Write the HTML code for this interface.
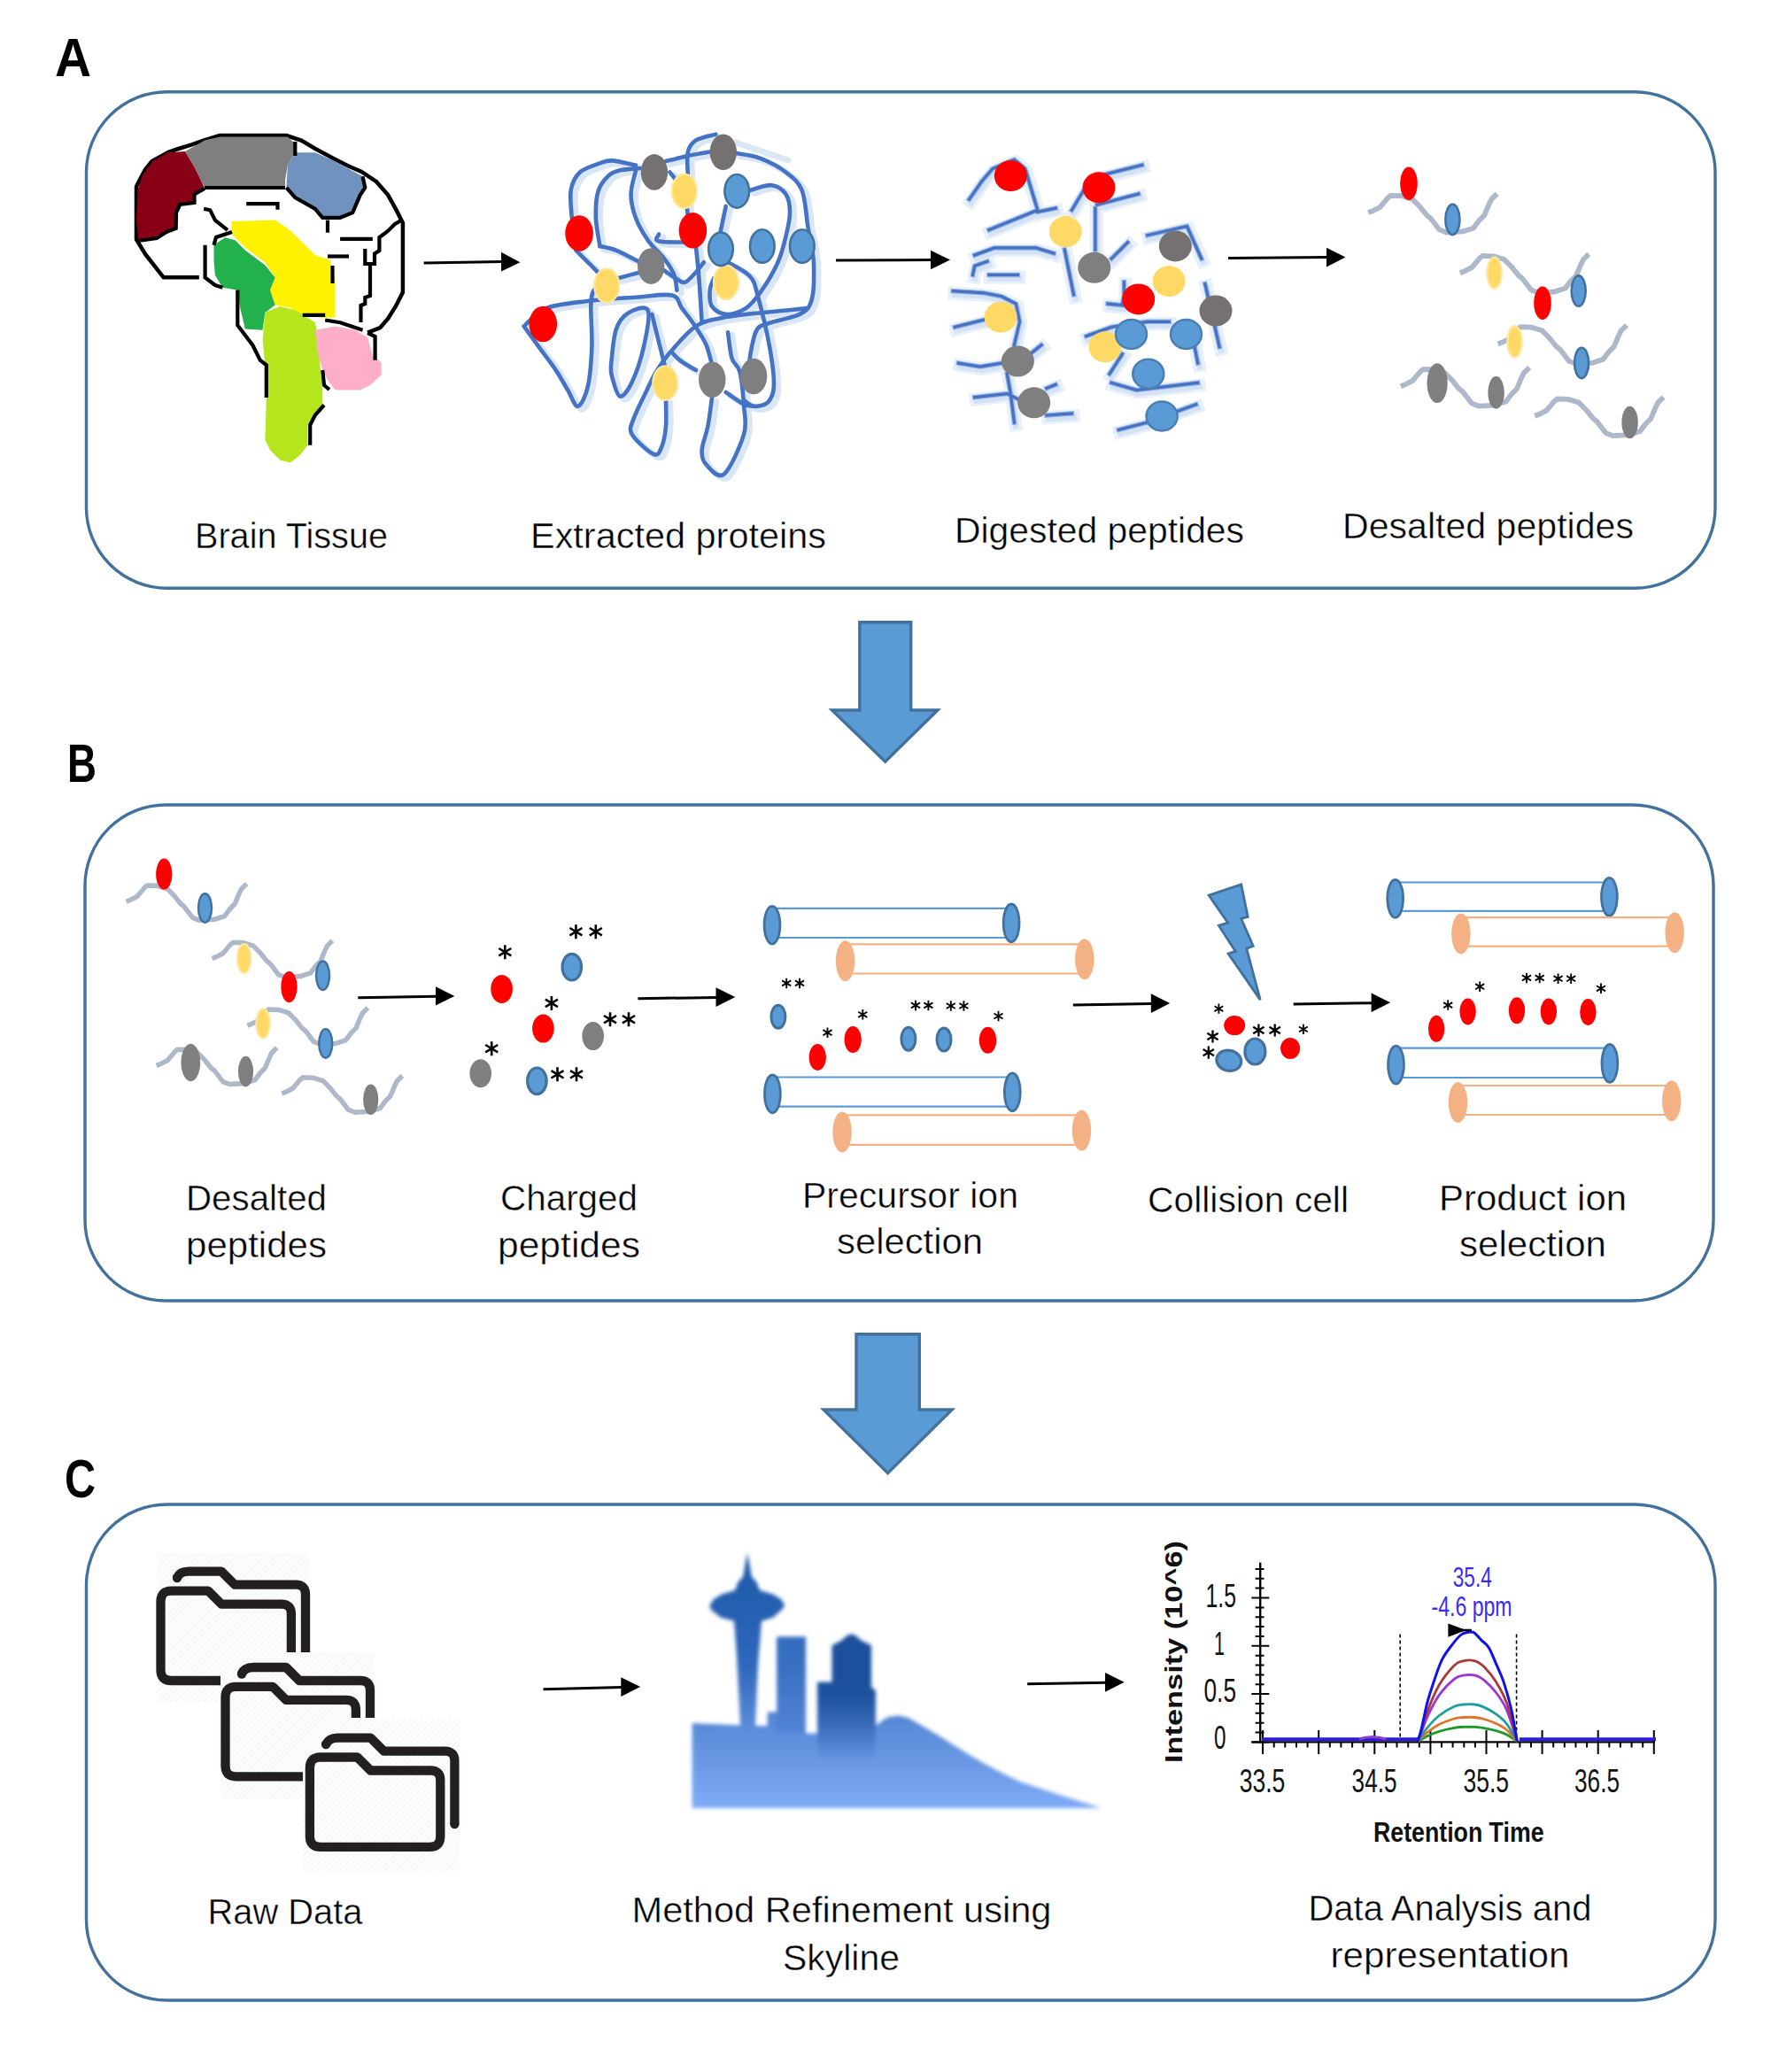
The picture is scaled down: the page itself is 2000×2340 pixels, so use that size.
<!DOCTYPE html>
<html><head><meta charset="utf-8"><title>Workflow</title>
<style>
html,body{margin:0;padding:0;background:#fff;overflow:hidden;width:2000px;height:2340px;}
svg{display:block;}
text{font-family:"Liberation Sans",sans-serif;}
</style></head>
<body>
<svg width="2000" height="2340" viewBox="0 0 2000 2340">
<defs>
  <marker id="ah" viewBox="0 0 10 10" refX="10" refY="5" markerUnits="userSpaceOnUse" markerWidth="22" markerHeight="22" orient="auto">
    <path d="M0,0 L10,5 L0,10 z" fill="#000"/>
  </marker>
  <filter id="soft" x="-5%" y="-5%" width="110%" height="110%"><feGaussianBlur stdDeviation="0.7"/></filter>
  <pattern id="hatch" patternUnits="userSpaceOnUse" width="4.5" height="4.5" patternTransform="rotate(-45)"><rect width="4.5" height="4.5" fill="#FDFDFD"/><rect width="4.5" height="1.3" fill="#F5F5F5"/></pattern>
  <g id="ast"><path d="M0,-8 V8 M-7,-4.2 L7,4.2 M-7,4.2 L7,-4.2" stroke="#000" stroke-width="2.6" fill="none"/></g>
</defs>
<rect width="2000" height="2340" fill="#fff"/>

<!-- ===== Section A: brain ===== -->
<g id="brain" stroke-linejoin="miter">
  <path d="M224.8,313.3 L184.7,313.3 L164.2,287.2 L154,270.4 L154,210.8 L158.6,201.5 L164.2,191.2 L171.7,181.9 L190.3,171.7 L201.5,168 L216.4,163.3 L231.3,158.1 L248.1,153 L323.5,153 L340.3,158.6 L356.1,168 L376.6,179.1 L393.4,187.5 L408.3,194 L425.1,205.2 L438.1,220.1 L447.4,236.9 L454.9,251.8 L454.9,330.1 L447.4,345 L438.1,359.9 L429.3,370 L415.1,375.6 L423.6,398.2 L423.6,406.7 L380,420 L367.2,457.5 L355.9,468.8 L350.2,480.1 L350.2,502.7 L330,522 L300.8,449 L300.8,412.3 L293.7,406.7 L285.3,389.7 L276.8,378.4 L268.3,367.2 L268.3,327.6 L242.9,322 L231.6,313.5 L231.6,276.8 Z" fill="#fff" stroke="none"/>
  <path d="M224.8,313.3 L184.7,313.3 L164.2,287.2 L154,270.4 L154,210.8 L158.6,201.5 L164.2,191.2 L171.7,181.9 L190.3,171.7 L201.5,168 L216.4,163.3 L231.3,158.1 L248.1,153 L323.5,153 L340.3,158.6 L356.1,168 L376.6,179.1 L393.4,187.5 L408.3,194 L425.1,205.2 L438.1,220.1 L447.4,236.9 L454.9,251.8 L454.9,330.1 L447.4,345 L438.1,359.9 L429.3,370 L415.1,375.6" fill="none" stroke="#000" stroke-width="4.5"/>
  <!-- colored regions -->
  <path d="M155.4,214.7 L161.1,197.8 L172.3,182.2 L189.3,172.3 L209.1,170.9 L220,189.3 L227,203.4 L231,213 L219.5,219.5 L219.5,229 L203.2,231 L199,240 L198.7,257.7 L187.9,262 L177,269 L156.3,271.8 L154,248.6 Z" fill="#880015"/>
  <path d="M209.1,170.9 L231.6,158.2 L248.6,154.6 L324.8,154.6 L333.3,162.5 L333.3,172.3 L324.8,186.5 L322,203.4 L322,210.5 L231,212 L227,203.4 L220,189.3 Z" fill="#7F7F7F"/>
  <path d="M333.3,172.3 L355.9,172.3 L378.4,182.2 L409.5,199.2 L412.3,211.9 L406.7,220.3 L398.2,240.1 L384.1,245.8 L364.3,245.8 L355.9,235.9 L333.3,223.2 L323.4,211.9 L324.8,186.5 Z" fill="#7092BE"/>
  <path d="M261.3,250 L310.7,248.6 L327.6,259.9 L344.6,276.8 L355.9,288.1 L372.8,293.7 L378.4,313.5 L378.4,358.7 L364.3,358.7 L341.7,355.9 L327.6,347.4 L310.7,344.6 L305,327.6 L310.7,313.5 L299.4,296.6 L276.8,279.6 L262.7,265.5 Z" fill="#FFF200"/>
  <path d="M241.5,276.8 L254.2,268.3 L265.5,271.2 L276.8,282.5 L299.4,299.4 L310.7,313.5 L305,327.6 L310.7,344.6 L299.4,353 L296.6,372.8 L276.8,371.4 L271.2,347.4 L268.3,327.6 L251.4,324.8 L242.9,310.7 L241.5,293.7 Z" fill="#22B14C"/>
  <path d="M299.4,353 L316.3,346 L333.3,350.2 L355.9,364.3 L358.7,378.4 L361.5,412.3 L364.3,440.6 L364.3,460.3 L355.9,468.8 L347.4,480.1 L347.4,502.7 L338.9,514 L327.6,522.4 L316.3,519.6 L305,508.3 L299.4,497 L300.8,451.9 L299.4,412.3 L296.6,384.1 Z" fill="#B5E61D"/>
  <path d="M355.9,372.8 L378.4,368.6 L401,372.8 L415.1,381.3 L420.8,401 L430.7,409.5 L430.7,423.6 L418,434.9 L406.7,440.6 L378.4,440.6 L370,429.3 L364.3,418 L358.7,398.2 Z" fill="#FFAEC9"/>
  <!-- inner black lines -->
  <g fill="none" stroke="#000" stroke-width="4.2">
    <path d="M231,212 L322,212"/>
    <path d="M231,213 L219.5,219.5 L219.5,229 L203.2,231 L199,240 L198.7,257.7 L187.9,262 L177,269 L156,272"/>
    <path d="M323.4,211.9 L333.3,223.2 L355.9,235.9 L364.3,245.8 L384.1,245.8 L398.2,240.1 L406.7,220.3 L412.3,211.9 L409.5,199.2"/>
    <path d="M333.3,160 L333.3,176"/>
    <path d="M278.2,230.2 L313.5,230.2 L313.5,236.7"/>
    <path d="M230.2,235.9 L237.3,237.3 L242.9,248.6 L257,259.9"/>
    <path d="M384.1,269.8 L420.8,269.8"/>
    <path d="M370,289.5 L394,289.5"/>
    <path d="M370,248.6 L370,262.7"/>
    <path d="M412.3,281 L412.3,298 L423,298 L423,286.5 L428.4,283 L428.4,268 L434,264 L440,259 L446,253 L453,249"/><path d="M418,298 L418,334 L412.3,336 L412.3,343 L407.5,345 L407.5,364"/><path d="M375.5,300 L375.5,320"/>
    
    <path d="M341.7,355.9 L367.2,355.9 M367.2,361.5 L384.1,364.3 L409.5,372.8"/>
    <path d="M231.6,276.8 L231.6,313.5 L242.9,322 L251.4,324.8"/>
    <path d="M241.5,276.8 L244,268 L262,262"/>
    <path d="M268.3,327.6 L268.3,367.2 L276.8,378.4 L285.3,389.7 L293.7,406.7 L300.8,412.3 L300.8,449"/>
    <path d="M366,457.5 L355.9,468.8 L350.2,480.1 L350.2,502.7"/>
    <path d="M415.1,376 L423.6,380 L423.6,398.2 L423.6,406.7"/>
    <path d="M364.3,418 L366,435 L372,440"/>
  </g>
</g>

<!-- ===== Section A: extracted proteins ===== -->
<g fill="none" stroke-linejoin="round" stroke-linecap="round">
  <path d="M831,161 L890,181" stroke="#DAE7F6" stroke-width="7"/><g stroke="#D8E6F6" stroke-width="7" transform="translate(4.8,3.4)">
    <use href="#tangle"/>
  </g>
  <g stroke="#4472C4" stroke-width="4.6" id="tangleg">
    <g id="tangle"><path d="M591.6,368.4 C594.6,372.6 603.7,385.0 609.7,393.3 C615.7,401.6 622.5,410.2 627.8,418.1 C633.0,426.0 637.2,433.9 641.3,440.7 C645.5,447.5 648.8,459.5 652.6,458.8 C656.4,458.0 661.3,447.5 663.9,436.2 C666.5,424.9 667.8,406.1 668.4,391.0 C669.0,376.0 666.9,356.4 667.3,345.9 C667.7,335.3 668.2,331.9 670.7,327.8 C673.1,323.7 680.1,322.1 682.0,321.0"/><path d="M593.9,366.2 C597.6,363.2 605.2,352.4 616.5,348.1 C627.8,343.8 644.7,342.3 661.6,340.2 C678.6,338.1 701.9,336.8 718.1,335.7 C734.3,334.6 750.1,331.4 758.8,333.4 C767.4,335.5 765.9,342.7 770.1,348.1 C774.2,353.6 779.1,359.4 783.6,366.2 C788.1,373.0 793.8,381.2 797.2,388.8 C800.5,396.3 802.8,407.6 803.9,411.4"/><path d="M645.8,246.5 C645.6,241.2 643.2,223.5 644.7,214.9 C646.2,206.2 649.4,199.6 654.9,194.5 C660.3,189.5 671.4,186.6 677.4,184.4 C683.5,182.2 684.2,181.1 691.0,181.4 C697.8,181.8 713.6,185.8 718.1,186.6"/><path d="M677.4,278.1 C676.7,272.8 673.3,256.6 672.9,246.5 C672.6,236.3 672.9,225.0 675.2,217.1 C677.4,209.2 682.3,203.2 686.5,199.1 C690.6,194.9 694.0,193.8 700.0,192.3 C706.1,190.8 718.9,190.4 722.6,190.0"/><path d="M677.4,278.1 C680.5,278.9 688.0,279.6 695.5,282.6 C703.0,285.6 718.1,293.9 722.6,296.2"/><path d="M718.1,192.3 C717.2,196.8 712.5,210.3 712.5,219.4 C712.5,228.4 714.9,237.8 718.1,246.5 C721.3,255.1 726.4,263.8 731.7,271.3 C736.9,278.9 744.8,285.3 749.7,291.7 C754.6,298.1 758.6,303.7 761.0,309.7 C763.5,315.7 763.8,324.8 764.4,327.8"/><path d="M650.3,282.6 C653.4,285.6 663.5,295.8 668.4,300.7 C673.3,305.6 677.8,310.1 679.7,312.0"/><path d="M697.8,314.2 C701.9,313.1 718.5,308.6 722.6,307.5"/><path d="M749.7,305.2 C752.0,306.7 759.3,312.0 763.3,314.2 C767.2,316.5 769.7,319.9 773.4,318.8 C777.2,317.6 782.3,311.2 785.9,307.5 C789.4,303.7 793.4,298.1 794.9,296.2"/><path d="M744.1,264.6 C744.1,265.9 737.5,271.0 744.1,272.5 C750.7,274.0 777.0,273.4 783.6,273.6"/><path d="M776.8,244.2 C776.1,239.7 775.7,225.4 772.3,217.1 C768.9,208.8 759.1,198.3 756.5,194.5"/><path d="M785.9,278.1 C786.4,283.7 788.1,297.7 789.2,312.0 C790.4,326.3 792.1,355.3 792.6,363.9"/><path d="M819.7,232.9 C818.6,238.2 814.1,259.3 813.0,264.6"/><path d="M846.8,214.9 C851.0,213.9 864.9,208.5 871.7,209.2 C878.5,210.0 884.1,214.3 887.5,219.4 C890.9,224.5 892.0,231.8 892.0,239.7 C892.0,247.6 889.8,257.4 887.5,266.8 C885.2,276.2 883.0,286.0 878.5,296.2 C873.9,306.3 866.4,319.1 860.4,327.8 C854.4,336.5 849.1,343.6 842.3,348.1 C835.6,352.6 826.1,355.3 819.7,354.9 C813.3,354.5 806.9,350.4 803.9,345.9 C800.9,341.3 801.3,333.1 801.7,327.8 C802.0,322.5 805.4,316.5 806.2,314.2"/><path d="M831.0,173.1 C835.6,174.0 848.7,175.1 858.1,178.7 C867.5,182.3 879.6,188.5 887.5,194.5 C895.4,200.6 901.4,204.7 905.6,214.9 C909.7,225.0 910.1,241.2 912.3,255.5 C914.6,269.8 919.1,285.3 919.1,300.7 C919.1,316.1 920.2,337.6 912.3,348.1 C904.4,358.7 881.1,360.2 871.7,363.9 C862.3,367.7 859.6,366.2 855.9,370.7 C852.1,375.2 851.0,382.8 849.1,391.0 C847.2,399.3 845.3,415.5 844.6,420.4"/><path d="M822.0,296.2 C826.1,298.8 841.2,305.6 846.8,312.0 C852.5,318.4 852.1,321.0 855.9,334.6 C859.6,348.1 866.4,376.4 869.4,393.3 C872.4,410.2 874.3,426.0 873.9,436.2 C873.6,446.4 870.9,450.5 867.2,454.3 C863.4,458.0 855.9,459.2 851.4,458.8 C846.8,458.4 841.9,453.1 840.1,452.0"/><path d="M689.9,413.6 C690.8,406.8 692.3,382.9 695.5,373.0 C698.7,363.0 703.0,357.5 709.1,353.8 C715.1,350.0 728.6,344.2 731.7,350.4 C734.7,356.6 730.1,377.5 727.1,391.0 C724.1,404.6 718.1,422.3 713.6,431.7 C709.1,441.1 703.8,448.6 700.0,447.5 C696.3,446.4 692.7,430.6 691.0,424.9 C689.3,419.3 690.1,415.5 689.9,413.6"/><path d="M736.2,354.9 C737.7,360.9 742.8,381.2 745.2,391.0 C747.7,400.8 749.9,409.9 750.9,413.6"/><path d="M752.0,452.0 C752.0,456.9 752.7,472.7 752.0,481.4 C751.2,490.0 749.7,498.7 747.5,504.0 C745.2,509.2 744.1,515.3 738.4,513.0 C732.8,510.7 717.3,497.2 713.6,490.4 C709.8,483.6 713.2,480.2 715.8,472.3 C718.5,464.4 725.3,451.6 729.4,443.0 C733.5,434.3 735.8,428.3 740.7,420.4 C745.6,412.5 751.2,404.2 758.8,395.6 C766.3,386.9 776.8,374.5 785.9,368.4 C794.9,362.4 801.7,361.9 813.0,359.4 C824.3,357.0 837.1,355.6 853.6,353.8 C870.2,351.9 902.6,349.1 912.3,348.1"/><path d="M785.9,418.1 C782.8,416.3 772.3,410.2 767.8,406.8 C763.3,403.5 760.3,399.3 758.8,397.8"/><path d="M819.7,443.0 C823.1,445.2 834.8,453.9 840.1,456.5 C845.3,459.2 849.5,458.4 851.4,458.8"/><path d="M803.9,449.8 C803.2,455.0 801.3,471.6 799.4,481.4 C797.5,491.2 793.0,501.3 792.6,508.5 C792.3,515.6 793.0,519.8 797.2,524.3 C801.3,528.8 810.3,541.2 817.5,535.6 C824.6,529.9 836.3,503.2 840.1,490.4 C843.8,477.6 840.8,470.5 840.1,458.8 C839.3,447.1 837.8,429.4 835.6,420.4 C833.3,411.4 828.8,412.1 826.5,404.6 C824.3,397.1 822.8,380.1 822.0,375.2"/><path d="M752.0,182.1 C756.1,181.1 768.5,177.8 776.8,176.0 C785.1,174.2 797.5,172.2 801.7,171.5"/><path d="M776.8,196.8 C776.8,192.7 775.3,178.3 776.8,171.9 C778.3,165.5 780.6,161.8 785.9,158.4 C791.1,155.0 804.7,152.7 808.4,151.6"/><path d="M815.2,278.1 C814.8,280.4 813.3,289.4 813.0,291.7"/></g>
  </g>
</g>
<g>
  <g fill="#7F7F7F">
    <ellipse cx="816.8" cy="171.8" rx="15.2" ry="20.3" fill="#767171"/>
    <ellipse cx="738.9" cy="194.4" rx="15.2" ry="20.3" fill="#767171"/>
    <ellipse cx="735.2" cy="300.6" rx="15.2" ry="20.3"/>
    <ellipse cx="804.3" cy="428.7" rx="15.2" ry="20.3"/>
    <ellipse cx="851.1" cy="425" rx="15.2" ry="20.3"/>
  </g>
  <g fill="#FFD966" stroke="#FFE699" stroke-width="2.2">
    <ellipse cx="772.8" cy="215.8" rx="14" ry="19.2"/>
    <ellipse cx="685.2" cy="322.5" rx="14" ry="19.2"/>
    <ellipse cx="820" cy="318.8" rx="14" ry="19.2"/>
    <ellipse cx="751.3" cy="432.6" rx="14" ry="19.2"/>
  </g>
  <g fill="#5B9BD5" stroke="#41719C" stroke-width="2.6">
    <ellipse cx="832.2" cy="215.8" rx="13.8" ry="18.8"/>
    <ellipse cx="814" cy="281.3" rx="13.8" ry="18.8"/>
    <ellipse cx="860.8" cy="278" rx="13.8" ry="18.8"/>
    <ellipse cx="905.8" cy="278" rx="13.8" ry="18.8"/>
  </g>
  <g fill="#FF0000">
    <ellipse cx="654.1" cy="263.5" rx="15.8" ry="20.2"/>
    <ellipse cx="782.4" cy="260.3" rx="15.8" ry="20.2"/>
    <ellipse cx="613.3" cy="366" rx="15.8" ry="20.2"/>
  </g>
</g>

<!-- ===== Section A: digested peptides ===== -->
<g fill="none" stroke-linecap="square" stroke-linejoin="miter" id="digest" filter="url(#soft)">
  <g stroke="#E8F0FA" stroke-width="15" transform="translate(1.5,2.5)"><use href="#dig"/></g>
  <g stroke="#D3E2F4" stroke-width="6.5" transform="translate(2,4)"><use href="#dig"/></g>
  <g stroke="#95B2E2" stroke-width="5.5"><use href="#dig"/></g>
  <g stroke="#4472C4" stroke-width="3.2"><g id="dig">
    <polyline points="1094.6,225.1 1108.8,204.7 1121.0,190.5 1145.4,180.3 1157.6,190.5 1171.8,237.3 1116.9,259.6"/>
    <polyline points="1171.8,239.3 1192.1,235.2"/>
    <polyline points="1100.7,288.1 1123.0,279.9 1169.8,279.9 1190.1,286.0"/>
    <polyline points="1098.6,310.4 1100.7,300.3 1114.9,295.2"/>
    <polyline points="1116.9,310.4 1149.4,310.4"/>
    <polyline points="1076.3,328.7 1110.8,330.8 1131.2,334.8 1147.4,343.0 1151.5,363.3 1145.4,389.7"/>
    <polyline points="1078.3,369.4 1110.8,361.3"/>
    <polyline points="1082.4,410.1 1106.8,414.1 1131.2,410.1"/>
    <polyline points="1165.7,397.9 1175.9,389.7"/>
    <polyline points="1100.7,448.7 1137.3,444.6 1149.4,450.7"/>
    <polyline points="1182.0,438.5 1192.1,434.4"/>
    <polyline points="1182.0,469.0 1210.4,467.0"/>
    <polyline points="1137.3,422.2 1141.3,444.6 1145.4,477.1"/>
    <polyline points="1210.4,237.3 1222.6,216.9 1232.8,200.7 1289.7,186.4"/>
    <polyline points="1238.9,231.2 1285.7,219.0"/>
    <polyline points="1236.9,235.2 1236.9,282.0"/>
    <polyline points="1202.3,282.0 1212.5,332.8"/>
    <polyline points="1255.2,292.1 1273.5,273.8"/>
    <polyline points="1269.4,318.6 1269.4,334.8 1267.4,343.0"/>
    <polyline points="1295.8,265.7 1340.5,255.5 1356.8,292.1"/>
    <polyline points="1360.9,320.6 1377.1,391.8"/>
    <polyline points="1226.7,379.6 1255.2,369.4 1295.8,363.3 1320.2,363.3"/>
    <polyline points="1253.1,422.2 1267.4,399.9"/>
    <polyline points="1255.2,432.4 1283.6,440.5 1352.7,432.4"/>
    <polyline points="1263.3,485.3 1295.8,477.1"/>
    <polyline points="1328.3,464.9 1350.7,456.8"/>
    <polyline points="1348.7,389.7 1352.7,410.1"/>
    <polyline points="1251.1,343.0 1269.4,345.0"/>
  </g></g>
</g>
<g>
  <g fill="#FF0000">
    <ellipse cx="1141.3" cy="198.6" rx="18.5" ry="17.5"/>
    <ellipse cx="1241" cy="211.8" rx="18.5" ry="17.5"/>
    <ellipse cx="1285.7" cy="337.9" rx="18.5" ry="17.5"/>
  </g>
  <g fill="#FFD966">
    <ellipse cx="1203.3" cy="261.6" rx="18.5" ry="17.5"/>
    <ellipse cx="1320.2" cy="317.6" rx="18.5" ry="17.5"/>
    <ellipse cx="1130.1" cy="358.2" rx="18.5" ry="17.5"/>
    <ellipse cx="1248" cy="391.8" rx="18.5" ry="17.5"/>
  </g>
  <g fill="#767171">
    <ellipse cx="1327.3" cy="277.9" rx="18.5" ry="17.5"/>
    <ellipse cx="1235.8" cy="302.3" rx="18.5" ry="17.5" fill="#7F7F7F"/>
    <ellipse cx="1373" cy="351" rx="18.5" ry="17.5"/>
    <ellipse cx="1149.4" cy="408" rx="18.5" ry="17.5" fill="#7F7F7F"/>
    <ellipse cx="1167.7" cy="454.8" rx="18.5" ry="17.5" fill="#7F7F7F"/>
  </g>
  <g fill="#5B9BD5" stroke="#4A7EB5" stroke-width="2.5">
    <ellipse cx="1277.5" cy="377.5" rx="17.5" ry="16.5"/>
    <ellipse cx="1339.5" cy="377.5" rx="17.5" ry="16.5"/>
    <ellipse cx="1296.8" cy="422.2" rx="17.5" ry="16.5"/>
    <ellipse cx="1312.1" cy="470" rx="17.5" ry="16.5"/>
  </g>
</g>

<!-- ===== desalted peptides group (A) ===== -->
<g id="pepA" transform="translate(1545.2,240.1)">
  <g id="pepgroup">
    <g fill="none" stroke="#ADB9CA" stroke-width="5.8" stroke-linejoin="round">
      <polyline id="chain" points="0,0 5.1,-2 13.2,-6.1 22.4,-16.9 25.4,-19.3 37.6,-18.9 49.8,-15.2 57.9,-7.1 66.1,3 70.1,6.1 80.3,19.3 88.4,22.4 106.7,21.3 118.9,17.3 125,9.1 131.1,3 136.2,-9.1 139.2,-15.2 145.4,-21.3"/>
      <use href="#chain" x="103.7" y="68.1"/>
      <use href="#chain" x="146.4" y="148.4"/>
      <use href="#chain" x="36.6" y="196.2"/>
      <use href="#chain" x="188" y="229.7"/>
    </g>
    <g fill="#FF0000">
      <ellipse cx="45.8" cy="-32.9" rx="9.8" ry="18.7"/>
      <ellipse cx="196.8" cy="102.1" rx="9.8" ry="18.7"/>
    </g>
    <g fill="#5B9BD5" stroke="#41719C" stroke-width="2.6">
      <ellipse cx="95.2" cy="7.8" rx="8" ry="17.2"/>
      <ellipse cx="237.5" cy="88.5" rx="8" ry="17.2"/>
      <ellipse cx="240.9" cy="169.8" rx="8" ry="17.2"/>
    </g>
    <g fill="#FFD966" stroke="#FFE699" stroke-width="2.4">
      <ellipse cx="142.4" cy="68.1" rx="8.2" ry="17.4"/>
      <ellipse cx="165.3" cy="145.8" rx="8.2" ry="17.4"/>
    </g>
    <g fill="#7F7F7F">
      <ellipse cx="77.9" cy="192.6" rx="11.6" ry="22.4"/>
      <ellipse cx="144.4" cy="203.3" rx="9.2" ry="18.3"/>
      <ellipse cx="295.4" cy="236.9" rx="9.2" ry="18.3"/>
    </g>
  </g>
</g>
<!-- ===== Section B ===== -->
<use href="#pepgroup" transform="translate(142.5,1018.2) scale(0.935,0.944)"/>
<g>
<g fill="#FF0000"><ellipse cx="566.6" cy="1116.9" rx="12.3" ry="16"/><ellipse cx="613.4" cy="1161.6" rx="12.3" ry="16"/></g>
<g fill="#7F7F7F"><ellipse cx="669.7" cy="1170.1" rx="12.3" ry="16"/><ellipse cx="542.7" cy="1212.2" rx="12.3" ry="16"/></g>
<g fill="#5B9BD5" stroke="#41719C" stroke-width="3.1"><ellipse cx="645.8" cy="1092.2" rx="10.8" ry="14.8"/><ellipse cx="606.4" cy="1220.8" rx="10.8" ry="14.8"/></g>
</g>
<g><use href="#ast" transform="translate(570.3,1075.2) scale(1.0)"/><use href="#ast" transform="translate(650.4,1052.2) scale(1.0)"/><use href="#ast" transform="translate(672.8,1052.2) scale(1.0)"/><use href="#ast" transform="translate(622.9,1132.9) scale(1.0)"/><use href="#ast" transform="translate(689,1151.2) scale(1.0)"/><use href="#ast" transform="translate(710,1151.2) scale(1.0)"/><use href="#ast" transform="translate(555.2,1184.2) scale(1.0)"/><use href="#ast" transform="translate(629.5,1213.3) scale(1.0)"/><use href="#ast" transform="translate(651,1213.3) scale(1.0)"/></g>
<path d="M872,1025.9 H1142.1 M872,1059 H1142.1" stroke="#5B9BD5" stroke-width="2.2" fill="none"/><ellipse cx="872" cy="1044.7" rx="8.9" ry="21.4" fill="#5B9BD5" stroke="#41719C" stroke-width="2.8"/><ellipse cx="1142.1" cy="1042.4" rx="8.9" ry="21.4" fill="#5B9BD5" stroke="#41719C" stroke-width="2.8"/>
<path d="M954.6,1066.4 H1224.8 M954.6,1099.5 H1224.8" stroke="#F4B183" stroke-width="2.2" fill="none"/><ellipse cx="954.6" cy="1085.2" rx="10.7" ry="23" fill="#F4B183"/><ellipse cx="1224.8" cy="1083.3" rx="10.7" ry="23" fill="#F4B183"/>
<path d="M872.4,1216.5 H1143.3 M872.4,1249.6 H1143.3" stroke="#5B9BD5" stroke-width="2.2" fill="none"/><ellipse cx="872.4" cy="1235.4" rx="8.9" ry="21.4" fill="#5B9BD5" stroke="#41719C" stroke-width="2.8"/><ellipse cx="1143.3" cy="1233.4" rx="8.9" ry="21.4" fill="#5B9BD5" stroke="#41719C" stroke-width="2.8"/>
<path d="M951.1,1259.3 H1221.5 M951.1,1292.9 H1221.5" stroke="#F4B183" stroke-width="2.2" fill="none"/><ellipse cx="951.1" cy="1278.5" rx="10.7" ry="23" fill="#F4B183"/><ellipse cx="1221.5" cy="1276.7" rx="10.7" ry="23" fill="#F4B183"/>
<path d="M1575.7,996.5 H1817.4 M1575.7,1028.9 H1817.4" stroke="#5B9BD5" stroke-width="2.2" fill="none"/><ellipse cx="1575.7" cy="1014.9" rx="8.9" ry="21.4" fill="#5B9BD5" stroke="#41719C" stroke-width="2.8"/><ellipse cx="1817.4" cy="1012.8" rx="8.9" ry="21.4" fill="#5B9BD5" stroke="#41719C" stroke-width="2.8"/>
<path d="M1649.9,1036.2 H1891.2 M1649.9,1068.6 H1891.2" stroke="#F4B183" stroke-width="2.2" fill="none"/><ellipse cx="1649.9" cy="1054.6" rx="10.7" ry="23" fill="#F4B183"/><ellipse cx="1891.2" cy="1053.2" rx="10.7" ry="23" fill="#F4B183"/>
<path d="M1576.5,1183.7 H1817.9 M1576.5,1217 H1817.9" stroke="#5B9BD5" stroke-width="2.2" fill="none"/><ellipse cx="1576.5" cy="1202.6" rx="8.9" ry="21.4" fill="#5B9BD5" stroke="#41719C" stroke-width="2.8"/><ellipse cx="1817.9" cy="1200.9" rx="8.9" ry="21.4" fill="#5B9BD5" stroke="#41719C" stroke-width="2.8"/>
<path d="M1646.5,1226 H1887.7 M1646.5,1259 H1887.7" stroke="#F4B183" stroke-width="2.2" fill="none"/><ellipse cx="1646.5" cy="1245" rx="10.7" ry="23" fill="#F4B183"/><ellipse cx="1887.7" cy="1243.3" rx="10.7" ry="23" fill="#F4B183"/>
<g fill="#FF0000"><ellipse cx="923.3" cy="1194" rx="9.7" ry="15"/><ellipse cx="963.2" cy="1174.1" rx="9.7" ry="15"/><ellipse cx="1115.5" cy="1174.8" rx="9.7" ry="15"/></g>
<g fill="#5B9BD5" stroke="#41719C" stroke-width="3"><ellipse cx="878.9" cy="1148.2" rx="8" ry="13"/><ellipse cx="1025.9" cy="1173.2" rx="8" ry="13"/><ellipse cx="1066" cy="1174.1" rx="8" ry="13"/></g>
<g><use href="#ast" transform="translate(888.2,1110.4) scale(0.72)"/><use href="#ast" transform="translate(903,1110.4) scale(0.72)"/><use href="#ast" transform="translate(934.5,1166.2) scale(0.72)"/><use href="#ast" transform="translate(974.3,1145.8) scale(0.72)"/><use href="#ast" transform="translate(1034,1135.4) scale(0.72)"/><use href="#ast" transform="translate(1048.4,1135.4) scale(0.72)"/><use href="#ast" transform="translate(1073.8,1136) scale(0.72)"/><use href="#ast" transform="translate(1088.4,1136) scale(0.72)"/><use href="#ast" transform="translate(1127.5,1147.5) scale(0.72)"/></g>
<path d="M1365.2,1011.1 L1401.7,998.9 L1409.2,1035.4 L1401.7,1037.5 L1415.2,1068.4 L1407.7,1071.2 L1423.2,1129.1 L1387.1,1077 L1395.3,1074.4 L1376.4,1045.4 L1386.7,1042.2 Z" fill="#5B9BD5" stroke="#41719C" stroke-width="2.8" stroke-linejoin="miter"/>
<g fill="#FF0000"><ellipse cx="1394.2" cy="1158.1" rx="12" ry="11"/><ellipse cx="1457.1" cy="1183.9" rx="11" ry="12"/></g>
<g fill="#5B9BD5" stroke="#41719C" stroke-width="3.2"><ellipse cx="1387.8" cy="1197.8" rx="14" ry="11.5" transform="rotate(12 1387.8 1197.8)"/><ellipse cx="1417.4" cy="1187.5" rx="11.5" ry="14.5"/></g>
<g><use href="#ast" transform="translate(1376.4,1139.2) scale(0.7)"/><use href="#ast" transform="translate(1369.5,1170.5) scale(0.88)"/><use href="#ast" transform="translate(1364.8,1188.6) scale(0.88)"/><use href="#ast" transform="translate(1421.4,1163.5) scale(0.88)"/><use href="#ast" transform="translate(1439.7,1163.5) scale(0.88)"/><use href="#ast" transform="translate(1471.9,1162.4) scale(0.7)"/></g>
<g fill="#FF0000"><ellipse cx="1622.1" cy="1161.8" rx="9.2" ry="15"/><ellipse cx="1657.6" cy="1142.4" rx="9.2" ry="15"/><ellipse cx="1713" cy="1141.3" rx="9.2" ry="15"/><ellipse cx="1748.9" cy="1142.4" rx="9.2" ry="15"/><ellipse cx="1793.4" cy="1143" rx="9.2" ry="15"/></g>
<g><use href="#ast" transform="translate(1635.2,1135.1) scale(0.72)"/><use href="#ast" transform="translate(1671.2,1114.2) scale(0.72)"/><use href="#ast" transform="translate(1724,1104.4) scale(0.72)"/><use href="#ast" transform="translate(1738.7,1104.4) scale(0.72)"/><use href="#ast" transform="translate(1759.6,1105.2) scale(0.72)"/><use href="#ast" transform="translate(1774.2,1105.2) scale(0.72)"/><use href="#ast" transform="translate(1808,1116.3) scale(0.72)"/></g>
<!-- ===== Section C ===== -->
<rect x="177" y="1754" width="172" height="168" fill="url(#hatch)"/>
<g stroke="#231F20" stroke-width="10.3" fill="none" stroke-linejoin="round"><path d="M249,1898 H193.5 Q181.5,1898 181.5,1886 V1808.6 Q181.5,1796.6 193.5,1796.6 H235.1 L250.1,1811.6 H317.9 Q328.9,1811.6 328.9,1822.6 V1865.9"/><path d="M199.7,1782.2 Q203,1774.7 213,1774.7 H250.1 L265.1,1789.7 H334 Q345,1789.7 345,1800.7 V1865.9"/></g><circle cx="200" cy="1782" r="5.2" fill="#231F20"/>
<rect x="249" y="1866.3" width="173.5" height="166" fill="url(#hatch)"/>
<g stroke="#231F20" stroke-width="10.3" fill="none" stroke-linejoin="round" transform="translate(73,108.3)"><path d="M272.6,1898 H193.5 Q181.5,1898 181.5,1886 V1808.6 Q181.5,1796.6 193.5,1796.6 H235.1 L250.1,1811.6 H317.9 Q328.9,1811.6 328.9,1822.6 V1831.6"/><path d="M199.7,1782.2 Q203,1774.7 213,1774.7 H250.1 L265.1,1789.7 H334 Q345,1789.7 345,1800.7 V1831.6"/></g><circle cx="273" cy="1890.5" r="5.2" fill="#231F20"/>
<rect x="342" y="1941.5" width="177" height="171.5" fill="url(#hatch)"/>
<g stroke="#231F20" stroke-width="10.3" fill="none" stroke-linejoin="round" transform="translate(168.4,187.9)"><path d="M181.5,1886 V1808.6 Q181.5,1796.6 193.5,1796.6 H235.1 L250.1,1811.6 H317.9 Q328.9,1811.6 328.9,1822.6 V1886 Q328.9,1898 316.9,1898 H193.5 Q181.5,1898 181.5,1886 Z"/><path d="M199.7,1782.2 Q203,1774.7 213,1774.7 H250.1 L265.1,1789.7 H334 Q345,1789.7 345,1800.7 V1872.1"/></g><circle cx="368.1" cy="1970" r="5.2" fill="#231F20"/><circle cx="513.4" cy="2060" r="5.2" fill="#231F20"/>

<defs>
<linearGradient id="skyg" x1="0" y1="1750" x2="0" y2="2042" gradientUnits="userSpaceOnUse">
 <stop offset="0" stop-color="#1C58A6"/><stop offset="0.45" stop-color="#2F68BC"/><stop offset="0.68" stop-color="#5A8AD8"/><stop offset="1" stop-color="#7FAAF6"/>
</linearGradient>
<linearGradient id="towg" x1="0" y1="1846" x2="0" y2="1990" gradientUnits="userSpaceOnUse">
 <stop offset="0" stop-color="#1A4F9C"/><stop offset="0.45" stop-color="#1E519E"/><stop offset="1" stop-color="#1E519E" stop-opacity="0"/>
</linearGradient>
<linearGradient id="b1g" x1="0" y1="1848" x2="0" y2="1960" gradientUnits="userSpaceOnUse">
 <stop offset="0" stop-color="#3A72C6"/><stop offset="1" stop-color="#4A7ED0"/>
</linearGradient>
<filter id="blur1" x="-5%" y="-5%" width="110%" height="110%"><feGaussianBlur stdDeviation="2.1"/></filter>
</defs>
<g filter="url(#blur1)"><path d="M781.6,2042 V1946 L836,1948.5 L832,1870 L829,1830.7 L814,1826.7 L803,1818 L801.3,1813 L806,1806 L815,1800.5 L830,1796 L834,1786 L839,1781 L844,1753.6 L849,1781 L854,1786 L858,1796 L873,1800.5 L882,1806 L886.3,1813 L883,1818 L873,1826.7 L860,1830.7 L856,1880 L853,1949 L866.6,1949 L866.6,1933.4 L877.2,1933.4 L877.2,1848.5 L910,1848.5 L910,1957.5 L923,1957.5 L923,1899.8 L939.7,1899.8 L939.7,1858.3 L950,1853 L957,1847 L961.4,1845.5 L966,1847 L973,1853 L984,1858.3 L984,1905 L989,1910 L989,1949 L995,1944 L1003,1939 L1014.8,1937.4 L1026,1940 L1060,1960 L1090,1979 L1113.6,1992.7 L1135,2004 L1153,2012.5 L1200,2028 L1244,2042 Z" fill="url(#skyg)"/>
<path d="M877.2,1848.5 H910 V1957.5 H877.2 Z" fill="url(#b1g)" opacity="0.55"/>
<path d="M923,1990 V1899.8 H939.7 V1858.3 L950,1853 L957,1847 L961.4,1845.5 L966,1847 L973,1853 L984,1858.3 V1905 L989,1910 V1990 Z" fill="url(#towg)"/>
</g>
<g stroke="#000" stroke-width="2.4" fill="none">
<line x1="1423.2" y1="1764.7" x2="1423.2" y2="1968.5"/>
<line x1="1413.4" y1="1967.4" x2="1869" y2="1967.4"/>
<path d="M1413.4,1967.4 H1433.3 M1417.6,1956.5 H1427.5 M1417.6,1945.7 H1427.5 M1417.6,1934.8 H1427.5 M1417.6,1924.0 H1427.5 M1413.4,1913.1 H1433.3 M1417.6,1902.2 H1427.5 M1417.6,1891.4 H1427.5 M1417.6,1880.5 H1427.5 M1417.6,1869.7 H1427.5 M1413.4,1858.8 H1433.3 M1417.6,1847.9 H1427.5 M1417.6,1837.1 H1427.5 M1417.6,1826.2 H1427.5 M1417.6,1815.4 H1427.5 M1413.4,1804.5 H1433.3 M1417.6,1793.6 H1427.5 M1417.6,1782.8 H1427.5 M1417.6,1771.9 H1427.5" stroke-width="2"/>
<path d="M1426.1,1954.1 V1981 M1438.7,1967.4 V1973.6 M1451.3,1967.4 V1973.6 M1464.0,1967.4 V1973.6 M1476.6,1967.4 V1973.6 M1489.2,1954.1 V1981 M1501.8,1967.4 V1973.6 M1514.4,1967.4 V1973.6 M1527.1,1967.4 V1973.6 M1539.7,1967.4 V1973.6 M1552.3,1954.1 V1981 M1564.9,1967.4 V1973.6 M1577.5,1967.4 V1973.6 M1590.2,1967.4 V1973.6 M1602.8,1967.4 V1973.6 M1615.4,1954.1 V1981 M1628.0,1967.4 V1973.6 M1640.6,1967.4 V1973.6 M1653.3,1967.4 V1973.6 M1665.9,1967.4 V1973.6 M1678.5,1954.1 V1981 M1691.1,1967.4 V1973.6 M1703.7,1967.4 V1973.6 M1716.4,1967.4 V1973.6 M1729.0,1967.4 V1973.6 M1741.6,1954.1 V1981 M1754.2,1967.4 V1973.6 M1766.8,1967.4 V1973.6 M1779.5,1967.4 V1973.6 M1792.1,1967.4 V1973.6 M1804.7,1954.1 V1981 M1817.3,1967.4 V1973.6 M1829.9,1967.4 V1973.6 M1842.6,1967.4 V1973.6 M1855.2,1967.4 V1973.6 M1867.8,1954.1 V1981" stroke-width="2"/>
</g>
<g stroke="#000" stroke-width="1.6" stroke-dasharray="4,3"><line x1="1581.2" y1="1845.4" x2="1581.2" y2="1966"/><line x1="1712.6" y1="1845.4" x2="1712.6" y2="1966"/></g>
<g stroke="#2B1FD6" stroke-width="4" fill="none"><path d="M1425,1964.2 H1601"/><path d="M1716,1964.2 H1870"/></g>
<path d="M1535,1964 Q1550,1959 1565,1964" stroke="#9040D0" stroke-width="3" fill="none"/>
<path d="M1601.5,1966.6 C1603.2,1965.6 1607.8,1962.6 1611.7,1960.7 C1615.7,1958.8 1620.1,1956.8 1625.2,1955.3 C1630.3,1953.7 1637.7,1952.1 1642.2,1951.3 C1646.7,1950.5 1648.3,1950.6 1652.3,1950.4 C1656.2,1950.2 1661.9,1950.2 1665.9,1950.4 C1669.9,1950.6 1672.1,1950.9 1676.1,1951.6 C1680.0,1952.3 1685.4,1953.4 1689.6,1954.6 C1693.8,1955.9 1697.5,1956.9 1701.5,1958.9 C1705.5,1960.9 1711.3,1965.3 1713.3,1966.6" fill="none" stroke="#1E9A2A" stroke-width="2.8"/>
<path d="M1601.5,1966.6 C1603.2,1964.9 1607.8,1959.9 1611.7,1956.7 C1615.7,1953.5 1620.1,1950.2 1625.2,1947.6 C1630.3,1945.0 1637.7,1942.4 1642.2,1941.0 C1646.7,1939.7 1648.3,1939.8 1652.3,1939.5 C1656.2,1939.2 1661.9,1939.2 1665.9,1939.5 C1669.9,1939.8 1672.1,1940.3 1676.1,1941.5 C1680.0,1942.7 1685.4,1944.6 1689.6,1946.6 C1693.8,1948.6 1697.5,1950.3 1701.5,1953.7 C1705.5,1957.0 1711.3,1964.4 1713.3,1966.6" fill="none" stroke="#E0742A" stroke-width="2.8"/>
<path d="M1601.5,1966.6 C1603.2,1964.1 1607.8,1956.2 1611.7,1951.4 C1615.7,1946.5 1620.1,1941.5 1625.2,1937.5 C1630.3,1933.5 1637.7,1929.4 1642.2,1927.3 C1646.7,1925.3 1648.3,1925.4 1652.3,1925.0 C1656.2,1924.6 1661.9,1924.5 1665.9,1925.0 C1669.9,1925.5 1672.1,1926.3 1676.1,1928.1 C1680.0,1929.9 1685.4,1932.8 1689.6,1935.9 C1693.8,1939.0 1697.5,1941.6 1701.5,1946.8 C1705.5,1951.9 1711.3,1963.3 1713.3,1966.6" fill="none" stroke="#1E9E9E" stroke-width="2.8"/>
<path d="M1601.5,1966.6 C1603.2,1962.1 1607.8,1948.1 1611.7,1939.4 C1615.7,1930.7 1620.1,1921.6 1625.2,1914.4 C1630.3,1907.2 1637.7,1900.0 1642.2,1896.3 C1646.7,1892.6 1648.3,1892.8 1652.3,1892.1 C1656.2,1891.4 1661.9,1891.2 1665.9,1892.1 C1669.9,1893.0 1672.1,1894.4 1676.1,1897.7 C1680.0,1900.9 1685.4,1906.1 1689.6,1911.6 C1693.8,1917.2 1697.5,1921.9 1701.5,1931.1 C1705.5,1940.2 1711.3,1960.7 1713.3,1966.6" fill="none" stroke="#9B35D8" stroke-width="2.8"/>
<path d="M1601.5,1966.6 C1603.2,1961.1 1607.8,1944.0 1611.7,1933.4 C1615.7,1922.8 1620.1,1911.8 1625.2,1903.0 C1630.3,1894.2 1637.7,1885.4 1642.2,1880.9 C1646.7,1876.4 1648.3,1876.7 1652.3,1875.8 C1656.2,1874.9 1661.9,1874.7 1665.9,1875.8 C1669.9,1876.9 1672.1,1878.6 1676.1,1882.6 C1680.0,1886.6 1685.4,1892.8 1689.6,1899.6 C1693.8,1906.4 1697.5,1912.1 1701.5,1923.3 C1705.5,1934.5 1711.3,1959.4 1713.3,1966.6" fill="none" stroke="#A83A3A" stroke-width="2.8"/>
<path d="M1600.8,1966.6 C1601.5,1964.5 1603.1,1961.0 1604.9,1953.8 C1606.7,1946.6 1609.2,1932.9 1611.7,1923.3 C1614.2,1913.7 1617.4,1904.4 1620.2,1896.2 C1623.0,1888.0 1625.5,1880.3 1628.6,1874.1 C1631.7,1867.9 1635.4,1863.4 1638.8,1858.9 C1642.2,1854.4 1646.2,1849.5 1649.0,1847.0 C1651.8,1844.5 1653.3,1844.2 1655.8,1843.7 C1658.3,1843.2 1661.4,1842.3 1664.2,1843.7 C1667.0,1845.1 1669.9,1849.3 1672.7,1852.1 C1675.5,1854.9 1678.4,1856.1 1681.2,1860.6 C1684.0,1865.1 1686.8,1872.7 1689.6,1879.2 C1692.4,1885.7 1695.3,1891.1 1698.1,1899.6 C1700.9,1908.1 1704.1,1918.8 1706.6,1930.0 C1709.1,1941.2 1712.2,1960.5 1713.3,1966.6" fill="none" stroke="#1010EE" stroke-width="3"/>
<path d="M1635.4,1833.5 L1655.7,1841 L1635.4,1848.7 Z" fill="#000"/><path d="M1650,1841 H1662" stroke="#000" stroke-width="2.5"/>
<!-- section labels -->
<text x="62" y="86" font-size="62" font-weight="bold" textLength="41" lengthAdjust="spacingAndGlyphs">A</text>
<text x="76" y="883" font-size="62" font-weight="bold" textLength="33" lengthAdjust="spacingAndGlyphs">B</text>
<text x="73" y="1691" font-size="62" font-weight="bold" textLength="35" lengthAdjust="spacingAndGlyphs">C</text>

<!-- boxes -->
<g fill="none" stroke="#41719C" stroke-width="3.4">
  <rect x="97.5" y="103.7" width="1839.5" height="560.5" rx="91" ry="91"/>
  <rect x="96" y="909" width="1839" height="560" rx="91" ry="91"/>
  <rect x="97.5" y="1699" width="1839.5" height="560" rx="91" ry="91"/>
</g>

<!-- big arrows -->
<g fill="#5B9BD5" stroke="#41719C" stroke-width="3.4" stroke-linejoin="miter">
  <path d="M970.8,702.8 H1028.7 V802 H1058.9 L999.7,860.2 L939.6,802 H970.8 Z"/>
  <path d="M967,1506.8 H1038.3 V1592 H1075.1 L1002.6,1663.6 L930.1,1592 H967 Z"/>
</g>

<!-- small arrows -->
<g stroke="#000" stroke-width="3" fill="none">
  <line x1="478.7" y1="297" x2="567" y2="295.5"/>
  <line x1="944" y1="294" x2="1053" y2="293.6"/>
  <line x1="1387" y1="291.5" x2="1500" y2="290.6"/>
  <line x1="404.3" y1="1126.8" x2="493" y2="1125.2"/>
  <line x1="720.4" y1="1127.8" x2="810" y2="1126.4"/>
  <line x1="1211.8" y1="1134.9" x2="1300" y2="1133.4"/>
  <line x1="1460.7" y1="1134.1" x2="1550" y2="1132.7"/>
  <line x1="613.6" y1="1907.7" x2="702" y2="1905.5"/>
  <line x1="1160.2" y1="1901.8" x2="1249" y2="1900.2"/>
</g>
<g fill="#000">
  <path d="M566,284.8 L587.4,296.2 L566,306.6 Z"/>
  <path d="M1051,282.8 L1073,293.4 L1051,304.2 Z"/>
  <path d="M1498,279.8 L1519.5,290.6 L1498,301.4 Z"/>
  <path d="M492,1114.2 L513.4,1124.9 L492,1135.6 Z"/>
  <path d="M808.5,1115.3 L830.3,1126 L808.5,1136.9 Z"/>
  <path d="M1299.8,1122.3 L1321.2,1133 L1299.8,1143.9 Z"/>
  <path d="M1548.6,1121.6 L1570.1,1132.3 L1548.6,1143.1 Z"/>
  <path d="M701.3,1894.2 L723.1,1905 L701.3,1915.9 Z"/>
  <path d="M1248,1888.9 L1269.7,1899.8 L1248,1910.7 Z"/>
</g>

<!-- captions -->
<g font-size="40" fill="#000" stroke="#fff" stroke-width="0.45">
  <text x="220.0" y="619.3" textLength="218" lengthAdjust="spacingAndGlyphs">Brain Tissue</text>
  <text x="599.0" y="619.3" textLength="334" lengthAdjust="spacingAndGlyphs">Extracted proteins</text>
  <text x="1078.0" y="612.8" textLength="327" lengthAdjust="spacingAndGlyphs">Digested peptides</text>
  <text x="1516.0" y="608.3" textLength="329" lengthAdjust="spacingAndGlyphs">Desalted peptides</text>

  <text x="210.0" y="1366.9" textLength="159" lengthAdjust="spacingAndGlyphs">Desalted</text>
  <text x="210.0" y="1419.9" textLength="159" lengthAdjust="spacingAndGlyphs">peptides</text>
  <text x="565.0" y="1366.9" textLength="155" lengthAdjust="spacingAndGlyphs">Charged</text>
  <text x="562.0" y="1419.9" textLength="161" lengthAdjust="spacingAndGlyphs">peptides</text>
  <text x="906.0" y="1364" textLength="244" lengthAdjust="spacingAndGlyphs">Precursor ion</text>
  <text x="945.0" y="1416" textLength="165" lengthAdjust="spacingAndGlyphs">selection</text>
  <text x="1296.0" y="1368.9" textLength="227" lengthAdjust="spacingAndGlyphs">Collision cell</text>
  <text x="1625.0" y="1367" textLength="212" lengthAdjust="spacingAndGlyphs">Product ion</text>
  <text x="1648.0" y="1419" textLength="166" lengthAdjust="spacingAndGlyphs">selection</text>
</g>

<!-- section C captions -->
<g font-size="40" fill="#000" stroke="#fff" stroke-width="0.45">
  <text x="234.5" y="2172.9" textLength="175" lengthAdjust="spacingAndGlyphs">Raw Data</text>
  <text x="713.5" y="2171.4" textLength="474" lengthAdjust="spacingAndGlyphs">Method Refinement using</text>
  <text x="884.0" y="2224.5" textLength="132" lengthAdjust="spacingAndGlyphs">Skyline</text>
  <text x="1477.5" y="2168.6" textLength="320" lengthAdjust="spacingAndGlyphs">Data Analysis and</text>
  <text x="1502.5" y="2221.6" textLength="270" lengthAdjust="spacingAndGlyphs">representation</text>
</g>
<!-- chart labels -->
<g font-size="36" fill="#111">
  <text x="1361.5" y="1815.4" textLength="34.5" lengthAdjust="spacingAndGlyphs">1.5</text>
  <text x="1371" y="1869.1" textLength="12" lengthAdjust="spacingAndGlyphs">1</text>
  <text x="1359.5" y="1922.1" textLength="36.5" lengthAdjust="spacingAndGlyphs">0.5</text>
  <text x="1371" y="1975.2" textLength="13.5" lengthAdjust="spacingAndGlyphs">0</text>
  <text x="1399.8" y="2024.1" textLength="51.5" lengthAdjust="spacingAndGlyphs">33.5</text>
  <text x="1526.6" y="2024.1" textLength="51" lengthAdjust="spacingAndGlyphs">34.5</text>
  <text x="1652.5" y="2024.1" textLength="51.5" lengthAdjust="spacingAndGlyphs">35.5</text>
  <text x="1778" y="2024.1" textLength="51" lengthAdjust="spacingAndGlyphs">36.5</text>
</g>
<text x="1551" y="2080.3" font-size="31" font-weight="bold" fill="#111" textLength="192.5" lengthAdjust="spacingAndGlyphs">Retention Time</text>
<text transform="translate(1334.5,1991) rotate(-90)" x="0" y="0" font-size="27.5" font-weight="bold" fill="#111" textLength="251" lengthAdjust="spacingAndGlyphs">Intensity (10^6)</text>
<g font-size="31" fill="#3A2BF0">
  <text x="1640.8" y="1791.5" textLength="44" lengthAdjust="spacingAndGlyphs">35.4</text>
  <text x="1616.5" y="1825.2" textLength="91" lengthAdjust="spacingAndGlyphs">-4.6 ppm</text>
</g>
</svg>
</body></html>
